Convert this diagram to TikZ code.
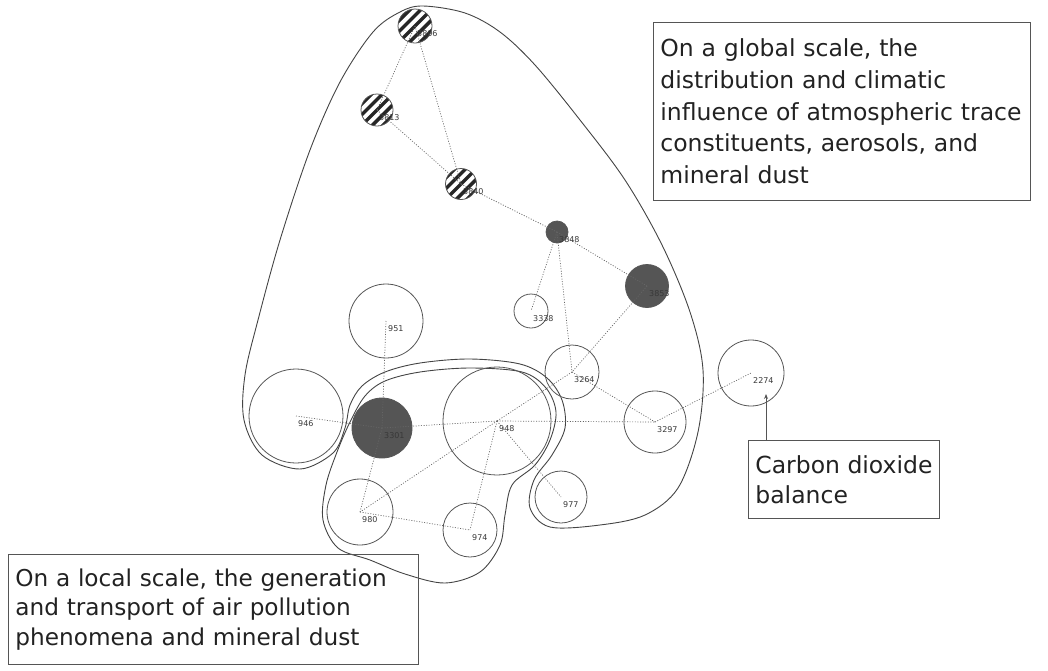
\documentclass[tikz,border=0pt]{standalone}
\usepackage{fontspec}
\setmainfont{DejaVu Sans}
\usetikzlibrary{calc,arrows.meta}
\definecolor{ringgray}{HTML}{555555}
\definecolor{edgegray}{HTML}{666666}
\definecolor{hullgray}{HTML}{444444}
\definecolor{darkfill}{HTML}{555555}
\definecolor{textgray}{HTML}{222222}
\begin{document}
\begin{tikzpicture}[x=1pt,y=-1pt,
  ring/.style={circle, draw=ringgray, line width=0.8pt, inner sep=0pt, minimum size=#1},
  darkring/.style={ring=#1, fill=darkfill},
  stripering/.style={ring=#1, path picture={
      \foreach \k in {-4,...,4}
        \draw[line width=3.4pt, black!85]
          ($(path picture bounding box.center)+(\k*5.3,\k*5.3)+(-30,30)$) -- ++(60,-60);
    }},
  idlabel/.style={anchor=north west, inner sep=0pt, font=\fontsize{8}{9}\selectfont, text=textgray!90},
  link/.style={draw=edgegray, line width=0.7pt, dash pattern=on 1pt off 1.6pt},
  hull/.style={draw=hullgray, line width=0.9pt},
  notebox/.style={draw=ringgray, line width=0.8pt, anchor=north west, align=left,
    inner xsep=7pt, text=textgray, font=\fontsize{23.5}{30.5}\selectfont},
]
\useasboundingbox (0,0) rectangle (1048,670);

% cluster outlines
\draw[hull] plot[smooth cycle, tension=0.55] coordinates {
  (423,6) (465,13) (500,32) (535,65) (580,120) (625,180) (662,245) (690,312)
  (703,370) (698,432) (678,488) (645,515) (600,525) (550,527) (530,508)
  (534,480) (552,455) (565,428) (562,400) (547,378) (520,364) (470,359)
  (420,363) (385,372) (362,386) (350,405) (345,428) (333,453) (300,469)
  (262,455) (244,420) (245,375) (258,320) (280,240) (310,150) (340,82)
  (373,32) (400,12)};
\draw[hull] plot[smooth cycle, tension=0.55] coordinates {
  (365,396) (385,381) (420,372) (470,368) (522,372) (546,388) (556,412)
  (550,440) (535,465) (512,485) (505,515) (500,545) (480,572) (445,583)
  (405,574) (370,560) (338,548) (323,520) (326,485) (337,452) (350,422)};

% topic circles
\node[stripering=34pt] (n3806) at (415,26) {};
\node[stripering=32pt] (n3813) at (377,110) {};
\node[stripering=31pt] (n3840) at (461,184) {};
\node[darkring=22pt]   (n3848) at (557,232) {};
\node[darkring=43pt]   (n3853) at (647,286) {};
\node[ring=34pt]       (n3338) at (531,311) {};
\node[ring=74pt]       (n951)  at (386,321) {};
\node[ring=54pt]       (n3264) at (572,372) {};
\node[ring=66pt]       (n2274) at (751,373) {};
\node[ring=94pt]       (n946)  at (296,416) {};
\node[darkring=60pt]   (n3301) at (382,428) {};
\node[ring=108pt]      (n948)  at (497,421) {};
\node[ring=62pt]       (n3297) at (655,422) {};
\node[ring=52pt]       (n977)  at (561,497) {};
\node[ring=54pt]       (n974)  at (470,530) {};
\node[ring=66pt]       (n980)  at (360,512) {};

% links between topics
\foreach \a/\b in {3806/3813, 3806/3840, 3813/3840, 3840/3848, 3848/3853,
                   3848/3338, 3848/3264, 3853/3264, 3264/948, 3264/3297,
                   3297/2274, 948/3297, 946/3301, 3301/948, 951/3301,
                   3301/980, 948/980, 948/974, 948/977, 980/974}
  \draw[link] (n\a.center) -- (n\b.center);

% topic numbers
\foreach \a in {3806,3813,3840,3848,3338,951,3264,2274,946,3301,948,3297,977,974,980}
  \node[idlabel] (l\a) at ($(n\a.center)+(2,4)$) {\a};
\node[idlabel] (l3853) at ($(n3853.center)+(2,4)$) {3853};

% annotations
\node[notebox, minimum width=377pt, minimum height=178pt, text width=363pt,
      font=\fontsize{23.5}{31.7}\selectfont] (gbox) at (653,22)
  {On a global scale, the\\ distribution and climatic\\ influence of atmospheric trace\\
   constituents, aerosols, and\\ mineral dust};
\node[notebox, minimum width=410pt, minimum height=110pt, text width=396pt,
      font=\fontsize{23.2}{29.2}\selectfont] (lbox) at (8,554)
  {On a local scale, the generation\\ and transport of air pollution\\ phenomena and mineral dust};
\node[notebox, minimum height=78pt, font=\fontsize{23.5}{30}\selectfont] (cbox) at (748,440)
  {Carbon dioxide\\ balance};
\coordinate (tip) at ($(n2274.center)+(15,21)$);
\draw[draw=ringgray, line width=0.9pt, -{Stealth[length=5pt, width=4pt]}] (cbox.north -| tip) -- (tip);
\end{tikzpicture}
\end{document}
